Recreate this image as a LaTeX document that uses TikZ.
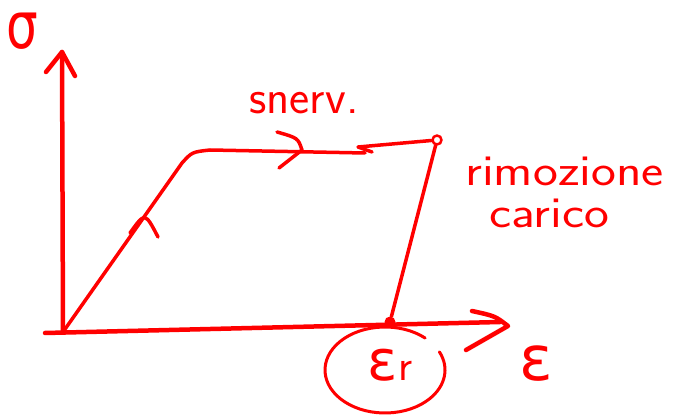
\documentclass[tikz,border=0pt]{standalone}
\usepackage{fontspec}
\usetikzlibrary{calc}
\newfontfamily\greekfont{DejaVu Sans}
\definecolor{ink}{RGB}{255,0,0}
\begin{document}
\begin{tikzpicture}[x=1pt,y=-1pt,line cap=round,line join=round,
	every node/.style={text=ink,inner sep=0pt,font=\sffamily\fontsize{44}{36}\selectfont},
	big/.style={font=\greekfont\fontsize{62}{62}\selectfont},
	axis/.style={draw=ink,line width=4.5pt},
	pen/.style={draw=ink,line width=3.5pt}]
	\useasboundingbox (0,0) rectangle (674,419);

	\coordinate (O) at (63,332);
	\coordinate (ytop) at (62,52);
	\coordinate (xstart) at (45,333);
	\coordinate (xend) at (500,322);
	\draw[axis] (O) -- (ytop);
	\draw[axis] (46,72) -- (ytop) -- (75,76);
	\draw[axis] (xstart) -- (xend);
	\draw[axis] (472,311) .. controls (495,316) .. (508,326) -- (466,350);
	\node[big,font=\greekfont\fontsize{50}{50}\selectfont,yscale=1.3] (sig) at (22,31) {σ};
	\node[big] (eps) at (536,364) {ε};

	% carico e snervamento
	\coordinate (Y) at (182,163);
	\coordinate (Yb) at (210,150);
	\node[circle,draw=ink,line width=2.5pt,fill=white,minimum size=9pt] (P) at (437,140) {};
	\node[circle,fill=ink,minimum size=11pt] (R) at (390,322) {};
	\draw[pen] (O) -- (Y) .. controls (192,152) .. (Yb) -- (365,153);
	\draw[pen] (P) -- (358,147) -- (372,152);
	\draw[pen] (130,233) .. controls (145,212) .. (158,237);
	\draw[pen] (277,132) .. controls (298,138) .. (302,150) -- (279,168);
	\node[font=\sffamily\fontsize{48}{48}\selectfont] (snerv) at (304,103) {snerv.};

	% scarico
	\draw[pen] (P) -- (R);
	\node[align=left,anchor=north west,xscale=1.2,font=\sffamily\fontsize{44}{42}\selectfont] (rim) at (465,157) {rimozione\\\hspace*{20pt}carico};

	\coordinate (C) at (385,370);
	\draw[draw=ink,line width=3pt] ($(C)+(-48:60 and 43)$) arc[start angle=-48,end angle=-385,x radius=60,y radius=43];
	\node (er) at (390,365) {{\greekfont\fontsize{56}{56}\selectfont ε}\kern1pt r};
\end{tikzpicture}
\end{document}
